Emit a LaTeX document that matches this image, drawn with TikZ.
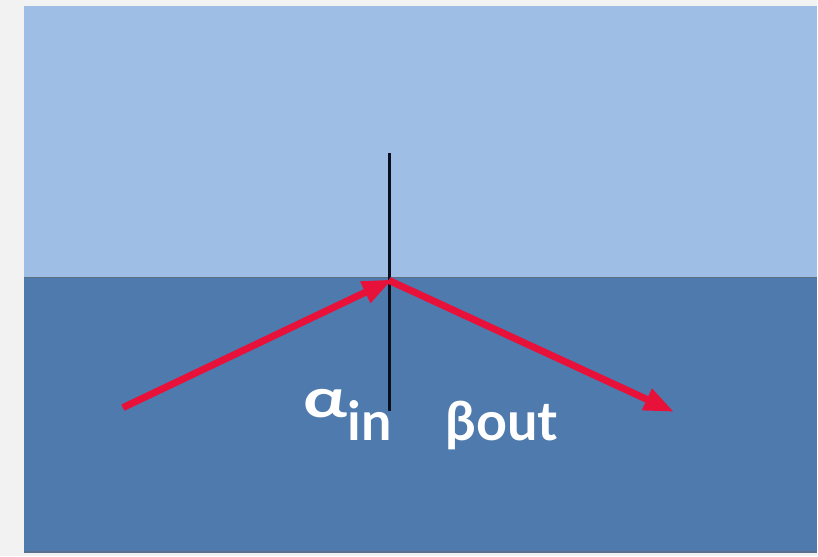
\documentclass[tikz,border=0pt]{standalone}
\usepackage{tikz}
\usetikzlibrary{arrows.meta,positioning,calc}
\usepackage{fontspec}
\setmainfont{Lato}
\usepackage{graphicx}
\usepackage{xcolor}
\definecolor{Paper}{HTML}{F2F2F2}
\definecolor{Air}{HTML}{9EBEE6}
\definecolor{Water}{HTML}{4F7AAD}
\definecolor{Border}{HTML}{5E6E80}
\definecolor{Ray}{HTML}{E8113A}
\definecolor{Normal}{HTML}{0A0F1E}
\tikzset{
 ray/.style={draw=Ray, line width=7pt, -{Triangle[length=30pt,width=22pt]}, shorten >=-3pt},
 normalline/.style={draw=Normal, line width=2.5pt},
 anglelabel/.style={text=white, inner sep=0pt, font=\fontsize{54}{58}\selectfont\bfseries}
}
\begin{document}
\begin{tikzpicture}[x=1pt,y=-1pt]
\fill[Paper] (0,0) rectangle (818,557);
\fill[Air] (24,6) rectangle (818,278);
\fill[Water] (24,278) rectangle (818,553);
\draw[Border, line width=1.5pt] (24,278) -- (818,278);
\draw[Border!70!Water, line width=1.5pt] (24,552.5) -- (818,552.5);
\coordinate (hit) at (390,281);
\coordinate (top) at (390,153);
\coordinate (foot) at (390,411);
\coordinate (src) at (123,408);
\coordinate (dst) at (672,411);
\draw[normalline] (top) -- (foot);
\draw[ray] (src) -- (hit);
\draw[ray, shorten <=-1pt] (hit) -- (dst);
\node[anglelabel, anchor=base west] (alphain) at (304,418) {\scalebox{1.35}[1]{α}\raisebox{-23pt}{in}};
\node[anglelabel, anchor=base west] (betaout) at (446,441) {βout};
\end{tikzpicture}
\end{document}
